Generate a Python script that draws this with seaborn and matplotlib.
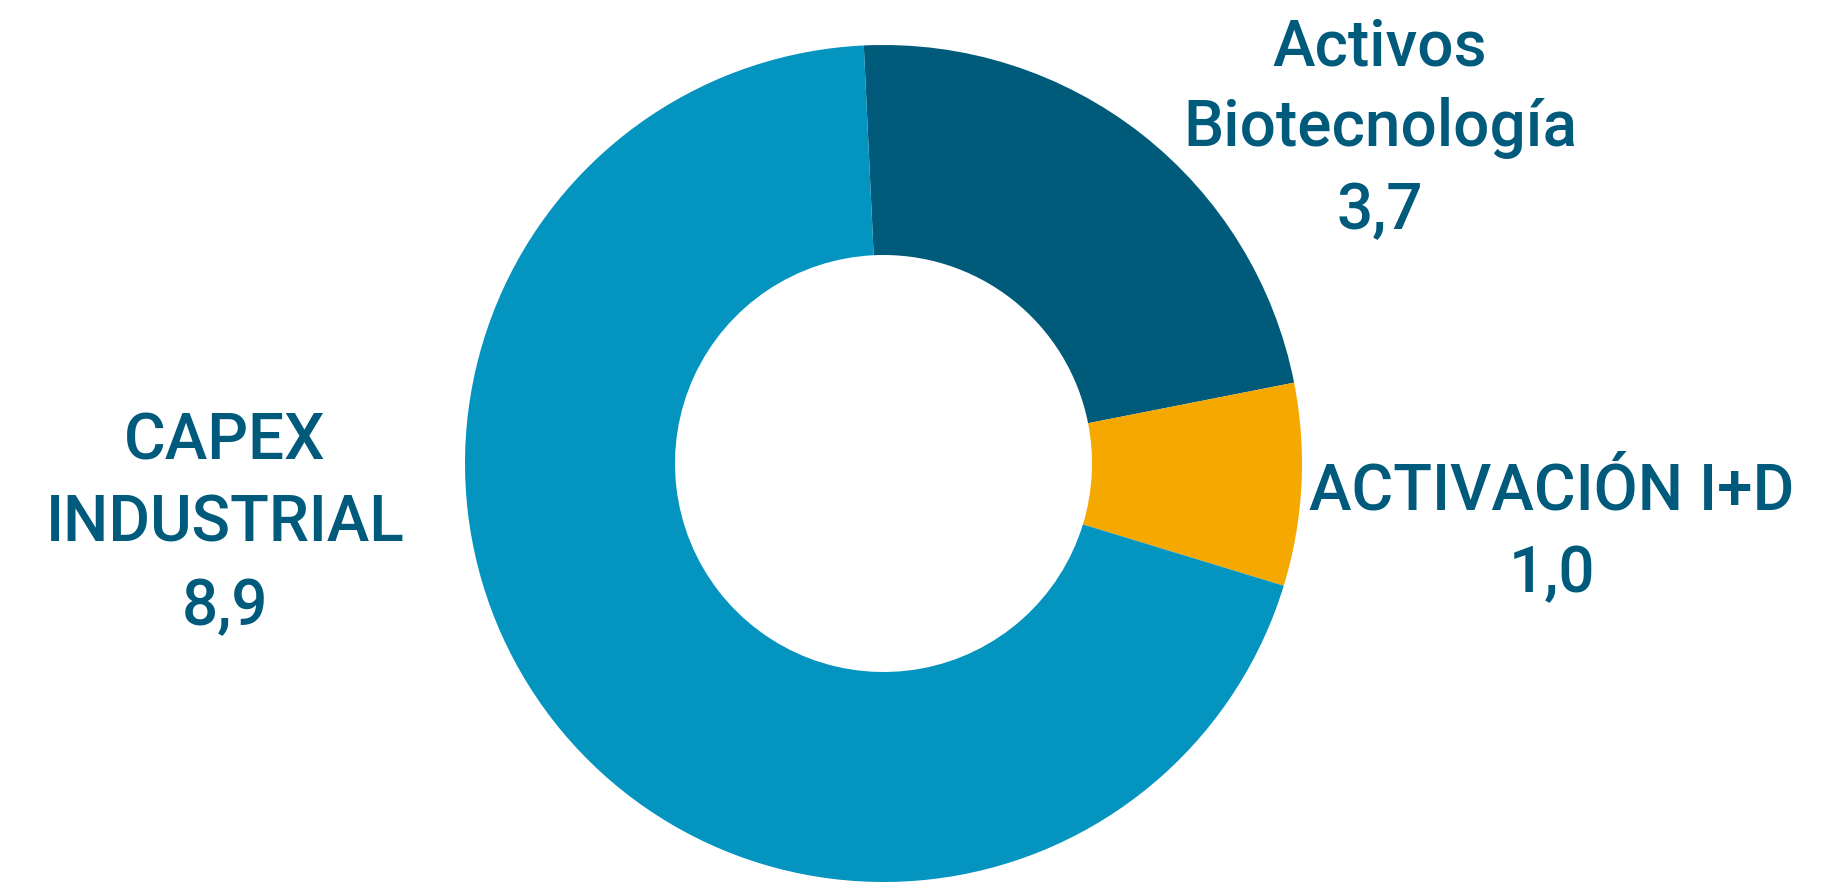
import matplotlib
matplotlib.use("Agg")
import matplotlib.pyplot as plt
import seaborn as sns

# Data (slice sizes as drawn in the picture, label text as printed)
categories = ["Activos\nBiotecnología", "ACTIVACIÓN I+D", "CAPEX\nINDUSTRIAL"]
slice_values = [2.9, 1.0, 8.9]
value_labels = ["3,7", "1,0", "8,9"]
colors = ["#005b7b", "#f5a900", "#0494c0"]
text_color = "#005a7c"

sns.set_style("white")
plt.rcParams["font.family"] = ["Roboto", "DejaVu Sans"]

W, H = 1845, 882
fig = plt.figure(figsize=(W / 100, H / 100), dpi=100)
ax = fig.add_axes([0, 0, 1, 1])

# donut, drawn in pixel units
ax.pie(slice_values,
       colors=colors,
       radius=418.5,
       center=(883.5, H - 463.5),
       startangle=92.7,
       counterclock=False,
       wedgeprops=dict(width=210, linewidth=0))
ax.set_xlim(0, W)
ax.set_ylim(0, H)
ax.set_aspect("equal")
ax.axis("off")

# labels: (center x, baselines of each line)
label_pos = [(1380, [65, 146, 229]),
             (1552, [509, 592]),
             (225, [460, 542, 625])]

for cat, val, (x, baselines) in zip(categories, value_labels, label_pos):
    lines = cat.split("\n") + [val]
    for line, b in zip(lines, baselines):
        ax.text(x, H - b, line, ha="center", va="baseline",
                fontsize=46, fontweight="medium", color=text_color)

plt.savefig("out.png", dpi=100)
